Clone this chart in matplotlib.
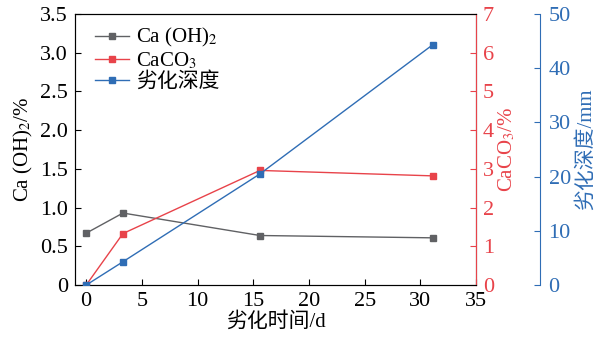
import matplotlib
matplotlib.use('Agg')
import matplotlib.pyplot as plt

plt.rcParams['font.family'] = ['Liberation Serif', 'Noto Sans CJK SC']
plt.rcParams['mathtext.fontset'] = 'stix'
plt.rcParams['axes.unicode_minus'] = False

days = [0, 3.3, 15.6, 31.1]
caoh2 = [0.67, 0.93, 0.64, 0.61]
caco3 = [0, 1.33, 2.96, 2.82]
depth = [0, 4.3, 20.5, 44.3]

left_ticks = [0, 0.5, 1.0, 1.5, 2.0, 2.5, 3.0, 3.5]
left_labels = ['0', '0.5', '1.0', '1.5', '2.0', '2.5', '3.0', '3.5']
x_ticks = [0, 5, 10, 15, 20, 25, 30, 35]
red_ticks = [0, 1, 2, 3, 4, 5, 6, 7]
blue_ticks = [0, 10, 20, 30, 40, 50]

gray = '#606164'
red = '#e8434a'
blue = '#2f6db5'
tfs = 16   # tick labels
fs = 15    # axis labels and legend

fig = plt.figure(figsize=(6.15, 3.41), dpi=100)
ax = fig.add_axes([0.122, 0.164, 0.652, 0.795])
ax2 = ax.twinx()
ax3 = ax.twinx()
ax3.spines['right'].set_position(('axes', 1.16))

l1, = ax.plot(days, caoh2, color=gray, marker='s', markersize=5, lw=1, label='Ca (OH)$_2$')
l2, = ax2.plot(days, caco3, color=red, marker='s', markersize=5, lw=1, label='CaCO$_3$')
l3, = ax3.plot(days, depth, color=blue, marker='s', markersize=5, lw=1, label='劣化深度')

ax.set_xlim(-1, 35)
ax.set_ylim(0, 3.5)
ax2.set_ylim(0, 7)
ax3.set_ylim(0, 50)

ax.set_xticks(x_ticks)
ax.set_yticks(left_ticks)
ax.set_yticklabels(left_labels)
ax2.set_yticks(red_ticks)
ax3.set_yticks(blue_ticks)

ax.tick_params(direction='in', labelsize=tfs, length=4, pad=5)
ax2.tick_params(direction='in', labelsize=tfs, length=4, pad=5, colors=red)
ax3.tick_params(direction='in', labelsize=tfs, length=4, pad=6, colors=blue)

ax.set_xlabel('劣化时间/d', fontsize=fs, labelpad=1)
ax.set_ylabel('Ca (OH)$_2$/%', fontsize=fs, labelpad=4)
ax2.set_ylabel('CaCO$_3$/%', fontsize=fs, color=red, labelpad=2)
ax3.set_ylabel('劣化深度/mm', fontsize=fs, color=blue, labelpad=4)

for s in ['left', 'bottom']:
    ax.spines[s].set_color('#333333')
ax2.spines['right'].set_color(red)
ax3.spines['right'].set_color(blue)
ax3.spines['top'].set_visible(False)
ax3.spines['left'].set_visible(False)
ax3.spines['bottom'].set_visible(False)

ax.legend(handles=[l1, l2, l3], loc='upper left', frameon=False, fontsize=fs,
          handlelength=1.6, handletextpad=0.35, labelspacing=0.05,
          borderaxespad=0.0, bbox_to_anchor=(0.03, 0.985))

fig.savefig('out.png', dpi=100)
